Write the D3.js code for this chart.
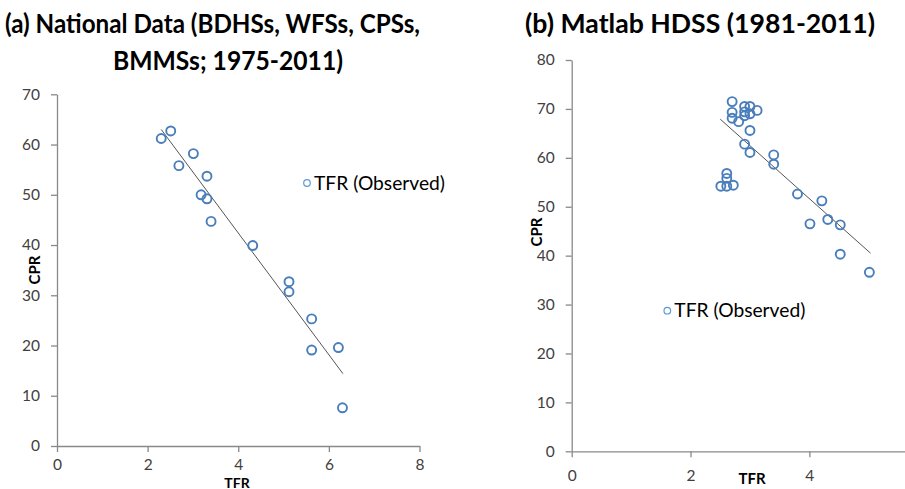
<!DOCTYPE html>
<html>
<head>
<meta charset="utf-8">
<script src="https://cdn.jsdelivr.net/npm/d3@7"></script>
<style>
  body { margin: 0; background: #fff; }
  svg { display: block; font-family: Lato, "Open Sans", sans-serif; }
</style>
</head>
<body>
<div id="chart"></div>
<script>
// (a) national data
var tfrA = [2.30, 2.51, 3.01, 2.69, 3.31, 3.18, 3.31, 3.40, 4.32, 5.12, 5.12, 5.62, 5.62, 6.21, 6.30];
var cprA = [61.2, 62.7, 58.2, 55.8, 53.7, 50.0, 49.2, 44.7, 39.9, 32.7, 30.7, 25.3, 19.1, 19.6, 7.6];
var trendTfrA = [2.30, 6.31];
var trendCprA = [63.0, 14.4];
var xTicksA = [0, 2, 4, 6, 8];
var yTicksA = [0, 10, 20, 30, 40, 50, 60, 70];

// (b) Matlab HDSS
var tfrB = [2.70, 2.70, 2.70, 2.81, 2.91, 2.91, 2.91, 3.00, 3.00, 3.12, 3.00, 2.91, 3.00, 3.40, 3.40,
            2.61, 2.61, 2.51, 2.61, 2.72, 3.80, 4.21, 4.01, 4.31, 4.52, 4.52, 5.01];
var cprB = [71.5, 69.3, 68.1, 67.4, 70.5, 69.4, 68.6, 70.5, 69.0, 69.7, 65.6, 62.8, 61.1, 60.6, 58.7,
            56.8, 55.8, 54.2, 54.2, 54.4, 52.6, 51.2, 46.5, 47.4, 46.3, 40.3, 36.6];
var trendTfrB = [2.50, 5.03];
var trendCprB = [67.9, 40.5];
var xTicksB = [0, 2, 4];
var yTicksB = [0, 10, 20, 30, 40, 50, 60, 70, 80];

var W = 905, H = 489;
var markerCol = "#4a7ebb";
var axisCol = "#898989";
var labelCol = "#404040";

var svg = d3.select("#chart").append("svg")
    .attr("width", W)
    .attr("height", H);

// Calibri is narrower than Lato, so squeeze the text to the wanted width
function squeeze(sel, target) {
    sel.attr("textLength", target).attr("lengthAdjust", "spacingAndGlyphs");
}

function title(txt, cx, y, w) {
    var t = svg.append("text")
        .attr("x", cx).attr("y", y)
        .attr("text-anchor", "middle")
        .attr("font-weight", "bold")
        .attr("font-size", 27.5)
        .attr("fill", "#000")
        .text(txt);
    squeeze(t, w);
}

title("(a) National Data (BDHSs, WFSs, CPSs,", 212.5, 33, 415);
title("BMMSs; 1975-2011)", 228, 70, 230);
title("(b) Matlab HDSS (1981-2011)", 700, 33, 350);

function panel(o) {
    var x = d3.scaleLinear().domain(o.xDomain).range(o.xRange);
    var y = d3.scaleLinear().domain(o.yDomain).range(o.yRange);
    var g = svg.append("g");

    var ya = g.append("g")
        .attr("transform", "translate(" + o.xRange[0] + ",0)")
        .call(d3.axisLeft(y).tickValues(o.yTicks).tickFormat(d3.format("d"))
            .tickSize(6).tickSizeOuter(0).tickPadding(11));
    var xa = g.append("g")
        .attr("transform", "translate(0," + o.yRange[0] + ")")
        .call(d3.axisBottom(x).tickValues(o.xTicks).tickFormat(d3.format("d"))
            .tickSize(6).tickSizeOuter(0).tickPadding(o.xPad));

    [ya, xa].forEach(function(a) {
        a.select(".domain").attr("stroke", axisCol).attr("stroke-width", 1.3);
        a.selectAll(".tick line").attr("stroke", axisCol).attr("stroke-width", 1.3);
        a.selectAll(".tick text")
            .attr("fill", labelCol)
            .attr("font-size", 15.5)
            .attr("font-family", "Lato, 'Open Sans', sans-serif");
    });

    // trend line
    var line = d3.line()
        .x(function(d) { return x(d[0]); })
        .y(function(d) { return y(d[1]); });
    g.append("path")
        .datum(d3.zip(o.trendX, o.trendY))
        .attr("d", line)
        .attr("fill", "none")
        .attr("stroke", "#555")
        .attr("stroke-width", 1);

    g.selectAll("circle.pt")
        .data(d3.zip(o.tfr, o.cpr))
        .enter().append("circle")
        .attr("class", "pt")
        .attr("cx", function(d) { return x(d[0]); })
        .attr("cy", function(d) { return y(d[1]); })
        .attr("r", 4.5)
        .attr("fill", "none")
        .attr("stroke", markerCol)
        .attr("stroke-width", 1.9);

    // legend
    g.append("circle")
        .attr("cx", o.leg[0]).attr("cy", o.leg[1])
        .attr("r", 3.3)
        .attr("fill", "none")
        .attr("stroke", "#5b9bd5")
        .attr("stroke-width", 1.2);
    var lt = g.append("text")
        .attr("x", o.leg[0] + 7).attr("y", o.leg[1] + 6.5)
        .attr("font-size", 18.5)
        .attr("fill", "#000")
        .text("TFR (Observed)");
    squeeze(lt, 131);

    // axis titles
    g.append("text")
        .attr("transform", "translate(" + o.cprPos[0] + "," + o.cprPos[1] + ") rotate(-90)")
        .attr("text-anchor", "middle")
        .attr("font-weight", "bold")
        .attr("font-size", 15)
        .attr("fill", "#000")
        .text("CPR");
    g.append("text")
        .attr("x", o.tfrPos[0]).attr("y", o.tfrPos[1])
        .attr("text-anchor", "middle")
        .attr("font-weight", "bold")
        .attr("font-size", o.tfrSize)
        .attr("fill", "#000")
        .text("TFR");
}

panel({
    tfr: tfrA, cpr: cprA, trendX: trendTfrA, trendY: trendCprA,
    xTicks: xTicksA, yTicks: yTicksA,
    xDomain: [0, 8], xRange: [57, 419.5],
    yDomain: [0, 70], yRange: [446, 94.3],
    xPad: 6.5, leg: [307, 183], cprPos: [39.5, 270], tfrPos: [237, 488], tfrSize: 14
});

panel({
    tfr: tfrB, cpr: cprB, trendX: trendTfrB, trendY: trendCprB,
    xTicks: xTicksB, yTicks: yTicksB,
    xDomain: [0, 6], xRange: [571.7, 928.2],
    yDomain: [0, 80], yRange: [451.3, 60],
    xPad: 13, leg: [667.3, 310.7], cprPos: [541.5, 232], tfrPos: [752, 483.5], tfrSize: 15
});
</script>
</body>
</html>
